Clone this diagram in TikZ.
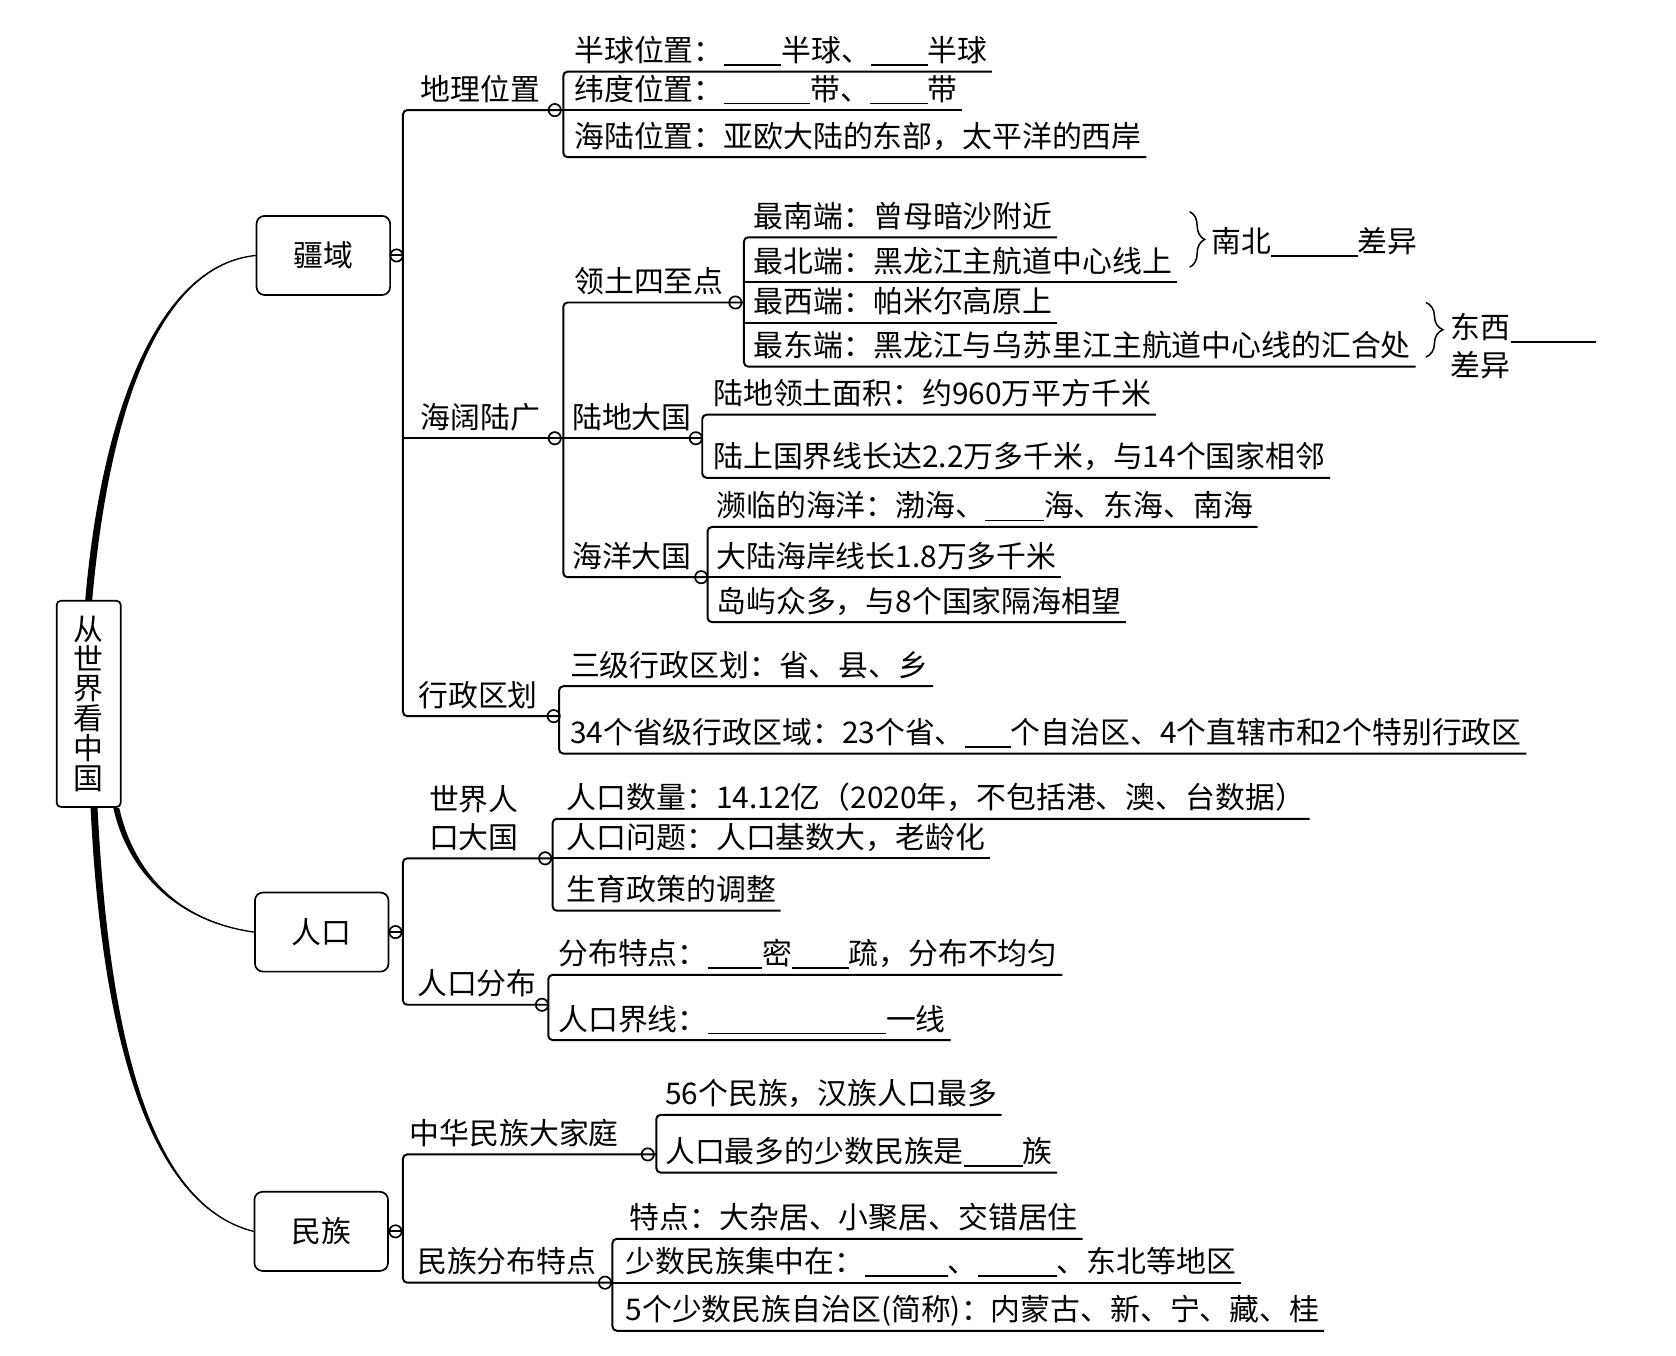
\documentclass[tikz,border=0pt]{standalone}
\usepackage{fontspec}
\setmainfont{Noto Sans CJK SC}
\usepackage{tikz}
\usetikzlibrary{positioning}
\usetikzlibrary{decorations.pathreplacing}

\newlength{\pxu}
\setlength{\pxu}{0.02cm}
\newcommand{\cnfont}{\fontsize{15.9pt}{20pt}\selectfont}
\newcommand{\fillblank}[1]{\rule[-4\pxu]{#1\pxu}{0.9pt}}

\tikzset{
  topic/.style={draw, rounded corners=0.15cm, line width=0.9pt, minimum width=2.5cm, minimum height=1.48cm, inner sep=0pt},
  knob/.style={draw, circle, line width=0.9pt, minimum size=0.23cm, inner sep=0pt},
  branch/.style={line width=1.05pt, rounded corners=0.08cm},
  subtopic/.style={anchor=south west, inner xsep=0pt, inner ysep=0.18cm, text depth=0pt,
    execute at begin node={\hspace*{#1\pxu}}},
  subtopic/.default=10,
  leaf/.style={anchor=south west, inner xsep=0pt, inner ysep=0.18cm, text depth=0pt,
    execute at begin node={\hspace*{#1\pxu}}, execute at end node={\hspace*{4\pxu}}},
  leaf/.default=10,
  curly/.style={decorate, decoration={brace, amplitude=#1}, line width=0.8pt},
}

\begin{document}
\begin{tikzpicture}[x=0.02cm, y=-0.02cm, font=\cnfont]
    \fill[white] (0,0) rectangle (1568,1268);
    \useasboundingbox (0,0) rectangle (1568,1268);

    % main topics
    \node (root) at (83,658.5) [draw, rounded corners=0.08cm, line width=0.9pt, minimum width=1.2cm, minimum height=3.86cm, inner sep=0pt, align=center, font=\fontsize{15.9pt}{15.9pt}\selectfont] {从\\世\\界\\看\\中\\国};
    \node (jy) at (302.5,239) [topic] {疆域};
    \node (rk) at (301,872) [topic] {人口};
    \node (mz) at (300.5,1152) [topic] {民族};

    \fill ([xshift=-0.065cm]root.north) .. controls (95.5,380) and (150,246.5) .. (jy.west)
        .. controls (150,249.5) and (102.5,380) .. ([xshift=0.065cm]root.north) -- cycle;
    \draw[line width=0.7pt] (root.north) .. controls (99,380) and (150,248) .. (jy.west);
    \fill ([xshift=-0.155cm]root.south east) .. controls (119,815) and (165,863) .. (rk.west)
        .. controls (165,861) and (125,815) .. ([xshift=-0.045cm]root.south east) -- cycle;
    \draw[line width=0.7pt] ([xshift=-0.1cm]root.south east) .. controls (122,815) and (165,862) .. (rk.west);
    \fill ([xshift=0.035cm]root.south) .. controls (96.5,1000) and (150,1131.2) .. (mz.west)
        .. controls (150,1128.8) and (103.5,1000) .. ([xshift=0.165cm]root.south) -- cycle;
    \draw[line width=0.7pt] ([xshift=0.1cm]root.south) .. controls (100,1000) and (150,1130) .. (mz.west);

    % 疆域
    \node (dl) at (377,103) [subtopic=16] {地理位置};
    \node (hk) at (377,410) [subtopic=16] {海阔陆广};
    \node (xz) at (377,670) [subtopic=14] {行政区划};
    \node (dl1) at (527,67) [leaf] {半球位置：\fillblank{54}半球、\fillblank{53}半球};
    \node (dl2) at (527,103) [leaf] {纬度位置：\fillblank{81}带、\fillblank{54}带};
    \node (dl3) at (527,147) [leaf] {海陆位置：亚欧大陆的东部，太平洋的西岸};
    \node (sz) at (527,283) [subtopic] {领土四至点};
    \node (ld) at (527,410) [subtopic=8] {陆地大国};
    \node (hy) at (527,540) [subtopic=8] {海洋大国};
    \node (sz1) at (696,222) [leaf=9] {最南端：曾母暗沙附近};
    \node (sz2) at (696,264) [leaf=9] {最北端：黑龙江主航道中心线上};
    \node (sz3) at (696,302) [leaf=9] {最西端：帕米尔高原上};
    \node (sz4) at (696,343) [leaf=9] {最东端：黑龙江与乌苏里江主航道中心线的汇合处};
    \node (ld1) at (657,388) [leaf] {陆地领土面积：约960万平方千米};
    \node (ld2) at (657,447) [leaf] {陆上国界线长达2.2万多千米，与14个国家相邻};
    \node (hy1) at (662,493) [leaf=8] {濒临的海洋：渤海、\fillblank{55}海、东海、南海};
    \node (hy2) at (662,540) [leaf=8] {大陆海岸线长1.8万多千米};
    \node (hy3) at (662,582) [leaf=8] {岛屿众多，与8个国家隔海相望};
    \node (xz1) at (523,642) [leaf] {三级行政区划：省、县、乡};
    \node (xz2) at (523,705) [leaf] {34个省级行政区域：23个省、\fillblank{43}个自治区、4个直辖市和2个特别行政区};

    \coordinate (nbt) at (1113,198);
    \coordinate (nbb) at (1113,250);
    \draw[curly=0.28cm] (nbt) -- (nbb);
    \node (nb) at (1133,236) [anchor=base west, inner sep=0pt] {南北\fillblank{81}差异};
    \coordinate (dxt) at (1334,283);
    \coordinate (dxb) at (1334,334);
    \draw[curly=0.32cm] (dxt) -- (dxb);
    \node (dx) at (1357,317) [anchor=base west, inner sep=0pt] {\begin{tabular}[t]{@{}l@{}}东西\fillblank{80}\\差异\end{tabular}};

    % 人口
    \node (sj) at (377,803) [subtopic=24] {\begin{tabular}[b]{@{}c@{}}世界人\\口大国\end{tabular}};
    \node (fb) at (377,940) [subtopic=13] {人口分布};
    \node (sj1) at (517,766) [leaf=13] {人口数量：14.12亿（2020年，不包括港、澳、台数据）};
    \node (sj2) at (517,803) [leaf=13] {人口问题：人口基数大，老龄化};
    \node (sj3) at (517,852) [leaf=13] {生育政策的调整};
    \node (fb1) at (513,912) [leaf=9] {分布特点：\fillblank{51}密\fillblank{53}疏，分布不均匀};
    \node (fb2) at (513,973) [leaf=9] {人口界线：\fillblank{167}一线};

    % 民族
    \node (zh) at (377,1080) [subtopic=6] {中华民族大家庭};
    \node (mf) at (377,1200) [subtopic=13] {民族分布特点};
    \node (zh1) at (614,1043) [leaf=8] {56个民族，汉族人口最多};
    \node (zh2) at (614,1097) [leaf=8] {人口最多的少数民族是\fillblank{55}族};
    \node (mf1) at (573,1159) [leaf=16] {特点：大杂居、小聚居、交错居住};
    \node (mf2) at (573,1200) [leaf=12] {少数民族集中在：\fillblank{78}、\fillblank{74}、东北等地区};
    \node (mf3) at (573,1245) [leaf=12] {5个少数民族自治区(简称)：内蒙古、新、宁、藏、桂};

    % connectors
    \draw[branch] (jy.east) -- (jy.east -| dl.south west);
    \draw[branch] (dl2.south west) -- (dl.south west) -- (xz.south west) -- (xz.south west -| xz1.south west);
    \draw[branch] (hk.south west) -- (ld.south west);
    \draw[branch] (dl1.south east) -- (dl1.south west) -- (dl3.south west) -- (dl3.south east);
    \draw[branch] (dl2.south west) -- (dl2.south east);
    \draw[branch] (sz.south west -| sz1.south west) -- (sz.south west) -- (hy.south west) -- (hy2.south west);
    \draw[branch] (ld.south west) -- (ld.south west -| ld1.south west);
    \draw[branch] (sz1.south east) -- (sz1.south west) -- (sz4.south west) -- (sz4.south east);
    \draw[branch] (sz2.south west) -- (sz2.south east);
    \draw[branch] (sz3.south west) -- (sz3.south east);
    \draw[branch] (ld1.south east) -- (ld1.south west) -- (ld2.south west) -- (ld2.south east);
    \draw[branch] (hy1.south east) -- (hy1.south west) -- (hy3.south west) -- (hy3.south east);
    \draw[branch] (hy2.south west) -- (hy2.south east);
    \draw[branch] (xz1.south east) -- (xz1.south west) -- (xz2.south west) -- (xz2.south east);

    \draw[branch] (rk.east) -- (rk.east -| sj.south west);
    \draw[branch] (sj2.south west) -- (sj.south west) -- (fb.south west) -- (fb.south west -| fb1.south west);
    \draw[branch] (sj1.south east) -- (sj1.south west) -- (sj3.south west) -- (sj3.south east);
    \draw[branch] (sj2.south west) -- (sj2.south east);
    \draw[branch] (fb1.south east) -- (fb1.south west) -- (fb2.south west) -- (fb2.south east);

    \draw[branch] (mz.east) -- (mz.east -| zh.south west);
    \draw[branch] (zh.south west -| zh1.south west) -- (zh.south west) -- (mf.south west) -- (mf2.south west);
    \draw[branch] (zh1.south east) -- (zh1.south west) -- (zh2.south west) -- (zh2.south east);
    \draw[branch] (mf1.south east) -- (mf1.south west) -- (mf3.south west) -- (mf3.south east);
    \draw[branch] (mf2.south west) -- (mf2.south east);

    % knobs
    \node (kjy) at (371,239) [knob] {};
    \node (krk) at (370,872) [knob] {};
    \node (kmz) at (370,1152) [knob] {};
    \node (kdl) at (519,103) [knob] {};
    \node (khk) at (519,410) [knob] {};
    \node (kxz) at (518,670) [knob] {};
    \node (ksz) at (688,283) [knob] {};
    \node (kld) at (651,410) [knob] {};
    \node (khy) at (656,540) [knob] {};
    \node (ksj) at (510,803) [knob] {};
    \node (kfb) at (507,940) [knob] {};
    \node (kzh) at (606,1080) [knob] {};
    \node (kmf) at (566,1200) [knob] {};
\end{tikzpicture}
\end{document}
